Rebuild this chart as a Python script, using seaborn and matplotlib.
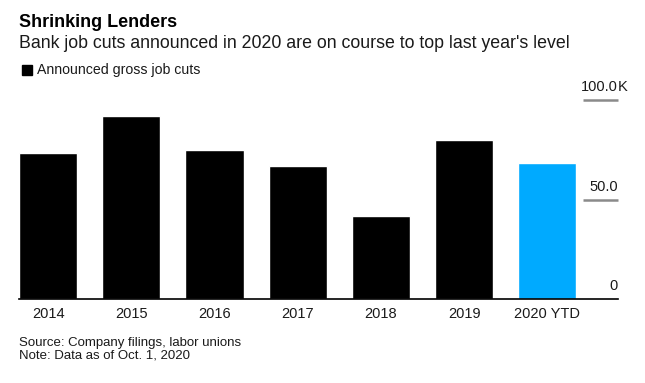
import matplotlib
matplotlib.use("Agg")
import matplotlib.pyplot as plt
import matplotlib.transforms as mtransforms
import seaborn as sns
import pandas as pd

sns.set_style("white")
plt.rcParams['font.family'] = ['Liberation Sans', 'DejaVu Sans']

# values in thousands of announced gross job cuts
years = ["2014", "2015", "2016", "2017", "2018", "2019", "2020 YTD"]
job_cuts = [73.4, 92.1, 74.7, 66.8, 41.9, 79.7, 68.3]
bar_colors = ["#000000"] * 6 + ["#00aaff"]
y_ticks = [0, 50, 100]
y_tick_labels = ["0", "50.0", "100.0"]

df = pd.DataFrame({"year": years, "cuts": job_cuts})

fig = plt.figure(figsize=(6.45, 3.83), dpi=100)
ax = fig.add_axes([19 / 645, 84 / 383, 599 / 645, 199 / 383])

sns.barplot(data=df, x="year", y="cuts", hue="year", palette=bar_colors,
            width=0.7, saturation=1, legend=False, ax=ax)

ax.set_xlim(-0.35, 6.85)
ax.set_ylim(0, 100)
for side in ["top", "right", "left"]:
    ax.spines[side].set_visible(False)
ax.spines["bottom"].set_color("black")
ax.spines["bottom"].set_linewidth(1.2)
ax.set_xlabel("")
ax.set_ylabel("")
ax.set_yticks([])
ax.tick_params(axis="x", length=0, pad=6, labelsize=10.5, labelcolor="#1a1a1a")

# short grey tick lines at the right with labels above them
trans = mtransforms.blended_transform_factory(ax.transAxes, ax.transData)
for v, lab in zip(y_ticks, y_tick_labels):
    if v > 0:
        ax.plot([0.942, 1.0], [v, v], color="#8a8a8a", lw=1.8,
                transform=trans, clip_on=False, solid_capstyle="butt")
    ax.annotate(lab, xy=(1.0, v), xycoords=trans, xytext=(0, 4),
                textcoords="offset points", ha="right", va="bottom",
                fontsize=10.5, color="#1a1a1a")
ax.annotate("K", xy=(1.0, 100), xycoords=trans, xytext=(0, 4),
            textcoords="offset points", ha="left", va="bottom",
            fontsize=10.5, color="#1a1a1a")

fig.text(19 / 645, 1 - 22.5 / 383, "Shrinking Lenders", fontsize=13,
         fontweight="bold", va="center", ha="left", color="black")
fig.text(19 / 645, 1 - 44 / 383,
         "Bank job cuts announced in 2020 are on course to top last year's level",
         fontsize=12.75, va="center", ha="left", color="#1a1a1a")

# legend
fig.patches.append(plt.Rectangle((22 / 645, 1 - 75 / 383), 10 / 645, 10 / 383,
                                 transform=fig.transFigure, color="black"))
fig.text(37 / 645, 1 - 70 / 383, "Announced gross job cuts", fontsize=10.2,
         va="center", ha="left", color="#1a1a1a")

fig.text(19 / 645, 1 - 343 / 383, "Source: Company filings, labor unions",
         fontsize=9.5, va="center", ha="left", color="#1a1a1a")
fig.text(19 / 645, 1 - 355 / 383, "Note: Data as of Oct. 1, 2020",
         fontsize=9.5, va="center", ha="left", color="#1a1a1a")

fig.savefig("out.png", dpi=100, facecolor="white")
